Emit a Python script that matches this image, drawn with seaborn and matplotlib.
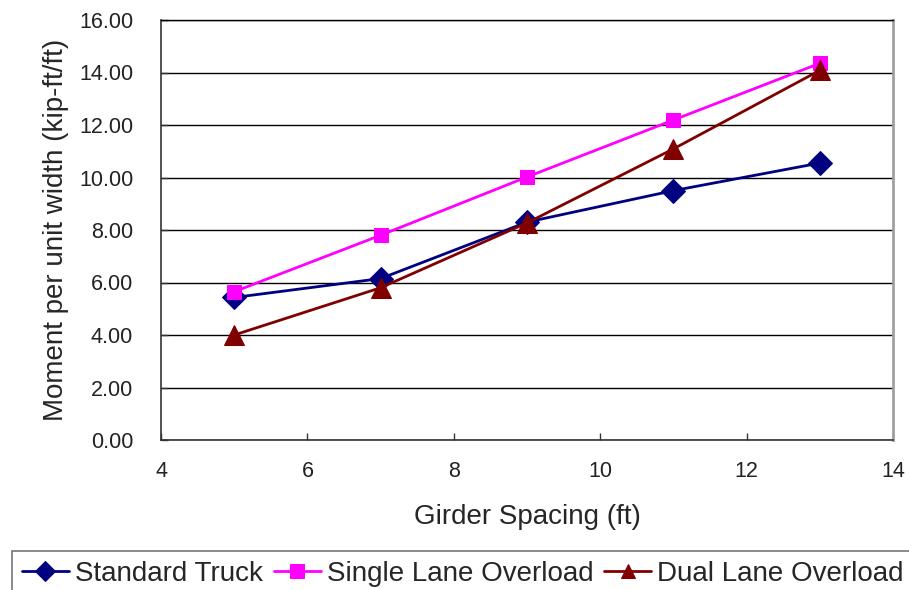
import matplotlib
matplotlib.use("Agg")
import matplotlib.pyplot as plt
import seaborn as sns
import pandas as pd

girder_spacing = [5, 7, 9, 11, 13]
standard_truck = [5.43, 6.15, 8.30, 9.50, 10.55]
single_lane = [5.65, 7.80, 10.02, 12.19, 14.35]
dual_lane = [4.00, 5.80, 8.27, 11.09, 14.08]
series_names = ["Standard Truck", "Single Lane Overload", "Dual Lane Overload"]
x_ticks = [4, 6, 8, 10, 12, 14]
y_ticks = [0, 2, 4, 6, 8, 10, 12, 14, 16]

sns.set_style("white")
plt.rcParams['font.family'] = ['Liberation Sans', 'DejaVu Sans']

df = pd.DataFrame({
    "x": girder_spacing * 3,
    "y": standard_truck + single_lane + dual_lane,
    "series": [series_names[0]] * 5 + [series_names[1]] * 5 + [series_names[2]] * 5,
})

fig = plt.figure(figsize=(9.09, 5.90), dpi=100)
ax = fig.add_axes([161 / 909, 1 - 440 / 590, (893 - 161) / 909, (440 - 20) / 590])

colors = ["#000080", "#FF00FF", "#800000"]
markers = ["D", "s", "^"]
msizes = [12.5, 10, 14]
for name, c, m, ms in zip(series_names, colors, markers, msizes):
    sub = df[df["series"] == name]
    sns.lineplot(data=sub, x="x", y="y", ax=ax, color=c, marker=m, markersize=ms,
                 markeredgecolor=c, linewidth=2, label=name, zorder=3)

ax.set_xlim(4, 14)
ax.set_ylim(0, 16)
ax.set_xticks(x_ticks)
ax.set_yticks(y_ticks)
ax.set_yticklabels([f"{v:.2f}" for v in y_ticks])
ax.grid(axis="y", color="#000000", linewidth=1.0)
ax.grid(axis="x", visible=False)
ax.tick_params(axis="both", direction="in", length=5, width=1, color="#333333",
               labelsize=15.5, labelcolor="#222222")
ax.tick_params(axis="x", pad=15, bottom=True)
ax.tick_params(axis="y", pad=20, left=True)
for side in ["left", "bottom"]:
    ax.spines[side].set_color("#333333")
    ax.spines[side].set_linewidth(1.2)
ax.spines["right"].set_color("#A0A0A0")
ax.spines["right"].set_linewidth(2)
ax.spines["top"].set_color("#000000")
ax.spines["top"].set_linewidth(1.0)

ax.set_xlabel("Girder Spacing (ft)", fontsize=20, labelpad=16)
ax.set_ylabel("Moment per unit width (kip-ft/ft)", fontsize=20, labelpad=7)

ax.get_legend().remove()
handles, labels = ax.get_legend_handles_labels()
leg = fig.legend(handles, labels, loc="upper left", bbox_to_anchor=(12 / 909, 1 - 551 / 590),
                 ncol=3, frameon=True, fancybox=False, edgecolor="#555555",
                 prop={"size": 20}, handlelength=1.7,
                 handletextpad=0.22, columnspacing=0.38, borderpad=0.35, borderaxespad=0)
leg.get_frame().set_linewidth(1.2)
for h in leg.legend_handles:
    h.set_markersize(10)

fig.savefig("out.png", dpi=100)
